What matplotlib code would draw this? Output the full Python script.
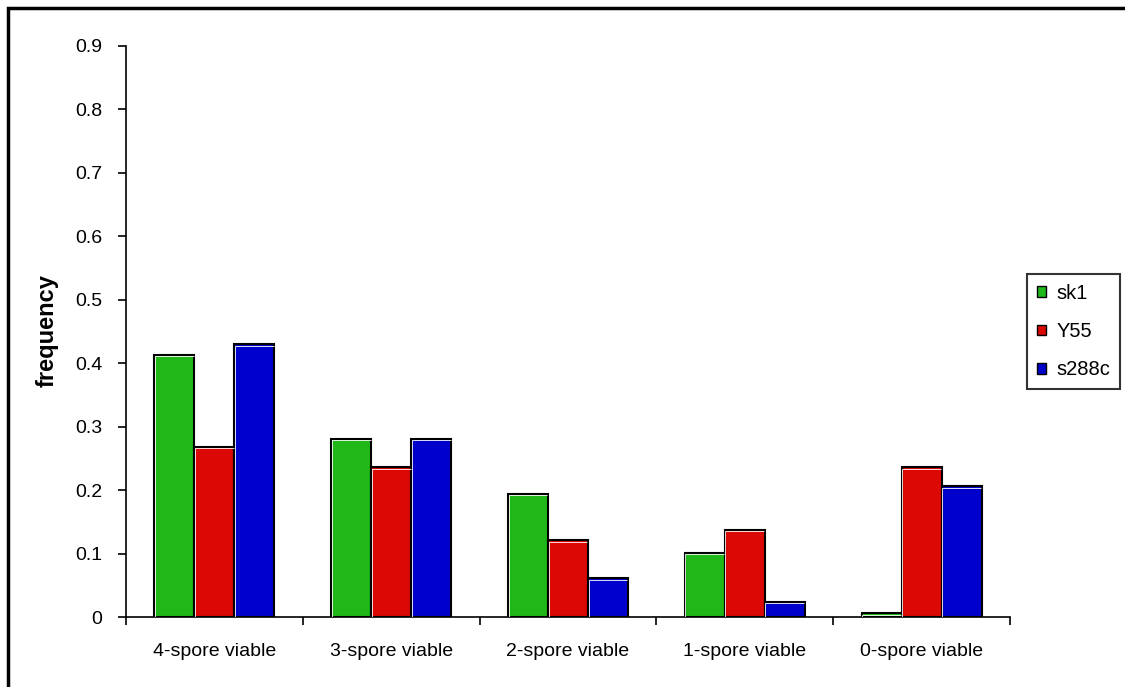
import matplotlib
matplotlib.use("Agg")
from matplotlib import pyplot as plt
from matplotlib.patches import Rectangle, Patch
import numpy as np

plt.rcParams['font.family'] = ['Liberation Sans', 'DejaVu Sans']

categories = ['4-spore viable', '3-spore viable', '2-spore viable', '1-spore viable', '0-spore viable']
strains = ['sk1', 'Y55', 's288c']
sk1 = [0.413, 0.281, 0.194, 0.101, 0.006]
y55 = [0.268, 0.236, 0.121, 0.137, 0.236]
s288c = [0.430, 0.281, 0.061, 0.024, 0.206]
yticks = [0, 0.1, 0.2, 0.3, 0.4, 0.5, 0.6, 0.7, 0.8, 0.9]

colors = ['#20b818', '#dc0804', '#0000cc']
series = [sk1, y55, s288c]

fig = plt.figure(figsize=(11.25, 6.87), dpi=100)
# outer chart frame
fig.patches.append(Rectangle((8/1125, -0.1), 1.2, (687-8)/687 + 0.1, transform=fig.transFigure,
                             fill=False, edgecolor='black', linewidth=2.5))

ax = fig.add_axes([126/1125, 70/687, 884/1125, 571/687])
x = np.arange(len(categories))
w = 0.226
for i, (vals, c) in enumerate(zip(series, colors)):
    bars = ax.bar(x + (i - 1) * w, vals, width=w, color=c, edgecolor='black', linewidth=1.5,
                  label=strains[i], zorder=2)
    # thin white highlight along the inner left and top edges
    for b in bars:
        x0, h = b.get_x(), b.get_height()
        dx = 0.0035
        ax.plot([x0 + dx, x0 + dx, x0 + w - dx], [0, h - 0.0022, h - 0.0022],
                color='white', linewidth=0.6, zorder=3, solid_capstyle='butt')

ax.set_xlim(-0.5, len(categories) - 0.5)
ax.set_ylim(0, 0.9)
ax.set_yticks(yticks)
ax.set_yticklabels(['0'] + ['%.1f' % v for v in yticks[1:]], fontsize=14)
ax.set_xticks(x)
ax.set_xticklabels(categories, fontsize=14)
ax.set_xticks(np.arange(len(categories) + 1) - 0.5, minor=True)
ax.tick_params(axis='x', which='major', length=0, pad=19)
ax.tick_params(axis='x', which='minor', direction='out', length=6, width=1.2)
ax.tick_params(axis='y', direction='out', length=6, width=1.2, pad=11)
for s in ['top', 'right']:
    ax.spines[s].set_visible(False)
for s in ['left', 'bottom']:
    ax.spines[s].set_linewidth(1.2)
ax.set_zorder(1)
fig.text(47/1125, 1 - 331/687, 'frequency', fontsize=17, fontweight='bold',
         rotation=90, ha='center', va='center')

handles = [Patch(facecolor=c, edgecolor='black', linewidth=1) for c in colors]
leg = fig.legend(handles, strains, loc='upper left', bbox_to_anchor=(1027/1125, 1 - 274/687),
                 fontsize=14.5, frameon=True, fancybox=False, edgecolor='black',
                 handlelength=0.45, handleheight=0.45, handletextpad=0.5,
                 labelspacing=0.95, borderpad=0.5, borderaxespad=0)
leg.get_frame().set_linewidth(1.5)

fig.savefig('out.png', dpi=100)
